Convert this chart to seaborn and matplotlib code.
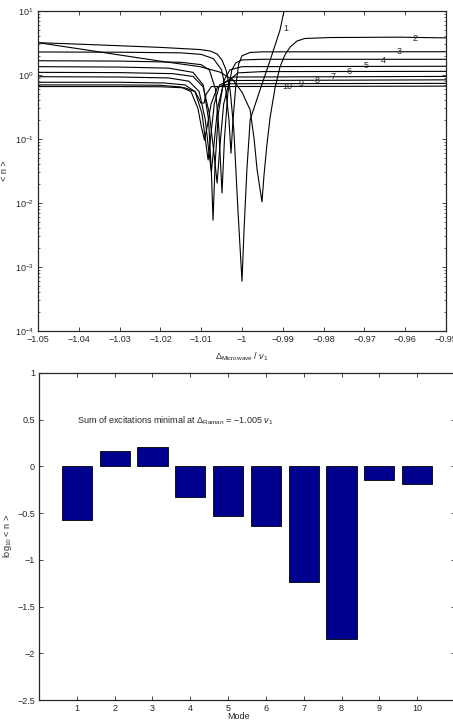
import numpy as np
import pandas as pd
import matplotlib
matplotlib.use("Agg")
import matplotlib.pyplot as plt
import seaborn as sns

# ---- top panel: <n> vs microwave detuning, one curve per mode ----
x1 = [-1.05, -1.035, -1.02, -1.0103, -1.0078, -1.0061, -1.0049, -1.0039, -1.0029, -1.002,
      -1.001, -1.0, -0.9995, -0.9988, -0.998, -0.9956, -0.9931, -0.9907, -0.9897]
y1 = [3.2, 2.95, 2.7, 2.5, 2.37, 2.13, 1.71, 1.2, 0.58, 0.138,
      0.0078, 0.0006, 0.0038, 0.033, 0.2, 0.58, 1.7, 5.0, 10.0]

x2 = [-1.05, -1.0397, -1.0299, -1.0201, -1.0103, -1.0054, -1.0022, -1.0, -0.998, -0.997,
      -0.9963, -0.9951, -0.9946, -0.9939, -0.9931, -0.9919, -0.9907, -0.9895, -0.9882,
      -0.9865, -0.9846, -0.9784, -0.9613, -0.95]
y2 = [3.2, 2.55, 2.05, 1.65, 1.35, 1.11, 0.835, 0.54, 0.284, 0.096,
      0.033, 0.0104, 0.0274, 0.081, 0.22, 0.63, 1.33, 2.05, 2.74,
      3.4, 3.72, 3.85, 3.9, 3.8]

x3 = [-1.05, -1.03, -1.015, -1.01, -1.007, -1.005, -1.004, -1.0032, -1.0027, -1.0022,
      -1.0015, -1.0008, -1.0, -0.998, -0.995, -0.95]
y3 = [2.29, 2.27, 2.22, 2.1, 1.8, 1.2, 0.6, 0.2, 0.06, 0.2,
      0.7, 1.5, 2.0, 2.25, 2.3, 2.31]

x4 = [-1.05, -1.03, -1.015, -1.01, -1.008, -1.0065, -1.0057, -1.0049, -1.0043, -1.0035,
      -1.0025, -1.0015, -1.0, -0.995, -0.95]
y4 = [1.67, 1.65, 1.58, 1.45, 1.2, 0.6, 0.15, 0.0144, 0.1, 0.5,
      1.2, 1.55, 1.72, 1.76, 1.76]

x5 = [-1.05, -1.03, -1.018, -1.012, -1.0095, -1.0082, -1.0075, -1.0071, -1.0066, -1.0058,
      -1.0045, -1.003, -1.0, -0.95]
y5 = [1.35, 1.33, 1.28, 1.1, 0.7, 0.2, 0.03, 0.0054, 0.04, 0.25,
      0.8, 1.2, 1.35, 1.37]

x6 = [-1.05, -1.03, -1.017, -1.012, -1.0095, -1.008, -1.007, -1.0061, -1.0054, -1.0045,
      -1.003, -1.001, -0.995, -0.95]
y6 = [1.10, 1.09, 1.05, 0.95, 0.65, 0.25, 0.07, 0.0205, 0.08, 0.35,
      0.85, 1.08, 1.13, 1.14]

x7 = [-1.05, -1.03, -1.018, -1.013, -1.0105, -1.009, -1.0082, -1.0075, -1.0068, -1.006,
      -1.0045, -1.002, -0.95]
y7 = [0.94, 0.93, 0.9, 0.8, 0.55, 0.2, 0.07, 0.0305, 0.09, 0.3,
      0.75, 0.93, 0.95]

x8 = [-1.05, -1.03, -1.019, -1.014, -1.0115, -1.0098, -1.009, -1.0083, -1.0076, -1.0068,
      -1.0055, -1.003, -0.95]
y8 = [0.77, 0.77, 0.75, 0.7, 0.55, 0.25, 0.1, 0.047, 0.12, 0.35,
      0.7, 0.82, 0.84]

x9 = [-1.05, -1.03, -1.02, -1.015, -1.0125, -1.0108, -1.01, -1.0092, -1.0085, -1.0076,
      -1.006, -1.003, -0.95]
y9 = [0.70, 0.70, 0.69, 0.65, 0.55, 0.3, 0.16, 0.096, 0.16, 0.35,
      0.65, 0.73, 0.74]

x10 = [-1.05, -1.03, -1.02, -1.014, -1.0115, -1.0105, -1.0101, -1.0093, -1.0088, -1.0075, -0.95]
y10 = [0.66, 0.66, 0.655, 0.63, 0.55, 0.42, 0.365, 0.365, 0.5, 0.66, 0.67]

# curve labels (mode number) placed along the right-hand plateaus
lab_text = ['1', '2', '3', '4', '5', '6', '7', '8', '9', '10']
lab_x = [-0.9893, -0.9576, -0.9615, -0.9654, -0.9696, -0.9738, -0.9777, -0.9816, -0.9855, -0.9890]
lab_y = [5.4, 3.74, 2.31, 1.71, 1.40, 1.14, 0.955, 0.83, 0.74, 0.66]

# ---- bottom panel: log10 <n> per mode at the optimum ----
modes = [1, 2, 3, 4, 5, 6, 7, 8, 9, 10]
log_n = [-0.57, 0.16, 0.21, -0.33, -0.53, -0.635, -1.24, -1.85, -0.15, -0.19]

xs = [x1, x2, x3, x4, x5, x6, x7, x8, x9, x10]
ys = [y1, y2, y3, y4, y5, y6, y7, y8, y9, y10]
curves = pd.concat([pd.DataFrame({'detuning': x, 'n': y, 'mode': i + 1})
                    for i, (x, y) in enumerate(zip(xs, ys))], ignore_index=True)
bars = pd.DataFrame({'mode': modes, 'log_n': log_n})

sns.set_style('ticks')
plt.rcParams['font.family'] = ['Liberation Sans', 'DejaVu Sans']
plt.rcParams['mathtext.fontset'] = 'custom'
plt.rcParams['mathtext.rm'] = 'Liberation Sans'
plt.rcParams['mathtext.it'] = 'Liberation Sans:italic'
plt.rcParams['axes.unicode_minus'] = True

FS = 6.5

fig = plt.figure(figsize=(4.53, 7.23), dpi=100)
ax1 = fig.add_axes([38 / 453, 1 - 331 / 723, 408 / 453, 320 / 723])
ax2 = fig.add_axes([39 / 453, 1 - 700 / 723, 416 / 453, 327 / 723])


def fmt(v):
    return ('%g' % v).replace('-', '\u2212')


# top panel
sns.lineplot(data=curves, x='detuning', y='n', units='mode', estimator=None,
             sort=False, color='black', lw=0.8, ax=ax1, legend=False)
ax1.set_yscale('log')
ax1.set_xlim(-1.05, -0.95)
ax1.set_ylim(1e-4, 1e1)
xt = [-1.05, -1.04, -1.03, -1.02, -1.01, -1.0, -0.99, -0.98, -0.97, -0.96, -0.95]
ax1.set_xticks(xt)
ax1.set_xticklabels([fmt(v) for v in xt])
ax1.set_yticks([1e-4, 1e-3, 1e-2, 1e-1, 1e0, 1e1])
ax1.yaxis.set_minor_locator(matplotlib.ticker.LogLocator(base=10, subs=np.arange(2, 10)))
ax1.yaxis.set_minor_formatter(matplotlib.ticker.NullFormatter())
for t, x, y in zip(lab_text, lab_x, lab_y):
    ax1.text(x, y, t, ha='center', va='center', fontsize=FS)
ax1.set_xlabel(r'$\Delta_{\mathrm{Microwave}}$ / $\nu_1$', fontsize=FS)
ax1.set_ylabel('< n >', fontsize=FS)
ax1.xaxis.set_label_coords(0.5, -0.06)
ax1.yaxis.set_label_coords(-0.072, 0.5)

# bottom panel
sns.barplot(data=bars, x='mode', y='log_n', native_scale=True, width=0.8,
            color='#00008F', saturation=1, edgecolor='black', linewidth=0.6, ax=ax2)
ax2.set_xlim(0, 11)
ax2.set_ylim(-2.5, 1)
ax2.set_xticks(modes)
ax2.set_xticklabels([str(m) for m in modes])
yt = [-2.5, -2, -1.5, -1, -0.5, 0, 0.5, 1]
ax2.set_yticks(yt)
ax2.set_yticklabels([fmt(v) for v in yt])
ax2.text(1.0, 0.49, r'Sum of excitations minimal at $\Delta_{\mathrm{Raman}}$ = $-$1.005 $\nu_1$',
         ha='left', va='center', fontsize=FS)
ax2.set_xlabel('Mode', fontsize=FS)
ax2.set_ylabel(r'log$_{10}$ < n >', fontsize=FS)
ax2.xaxis.set_label_coords(0.48, -0.038)
ax2.yaxis.set_label_coords(-0.06, 0.5)

for ax in (ax1, ax2):
    for s in ax.spines.values():
        s.set_visible(True)
        s.set_linewidth(0.9)
    ax.tick_params(which='major', direction='in', top=True, right=True,
                   length=3, width=0.6, labelsize=FS, pad=3)
    ax.tick_params(which='minor', direction='in', top=True, right=True,
                   length=1.6, width=0.5)

fig.savefig('out.png', dpi=100)
